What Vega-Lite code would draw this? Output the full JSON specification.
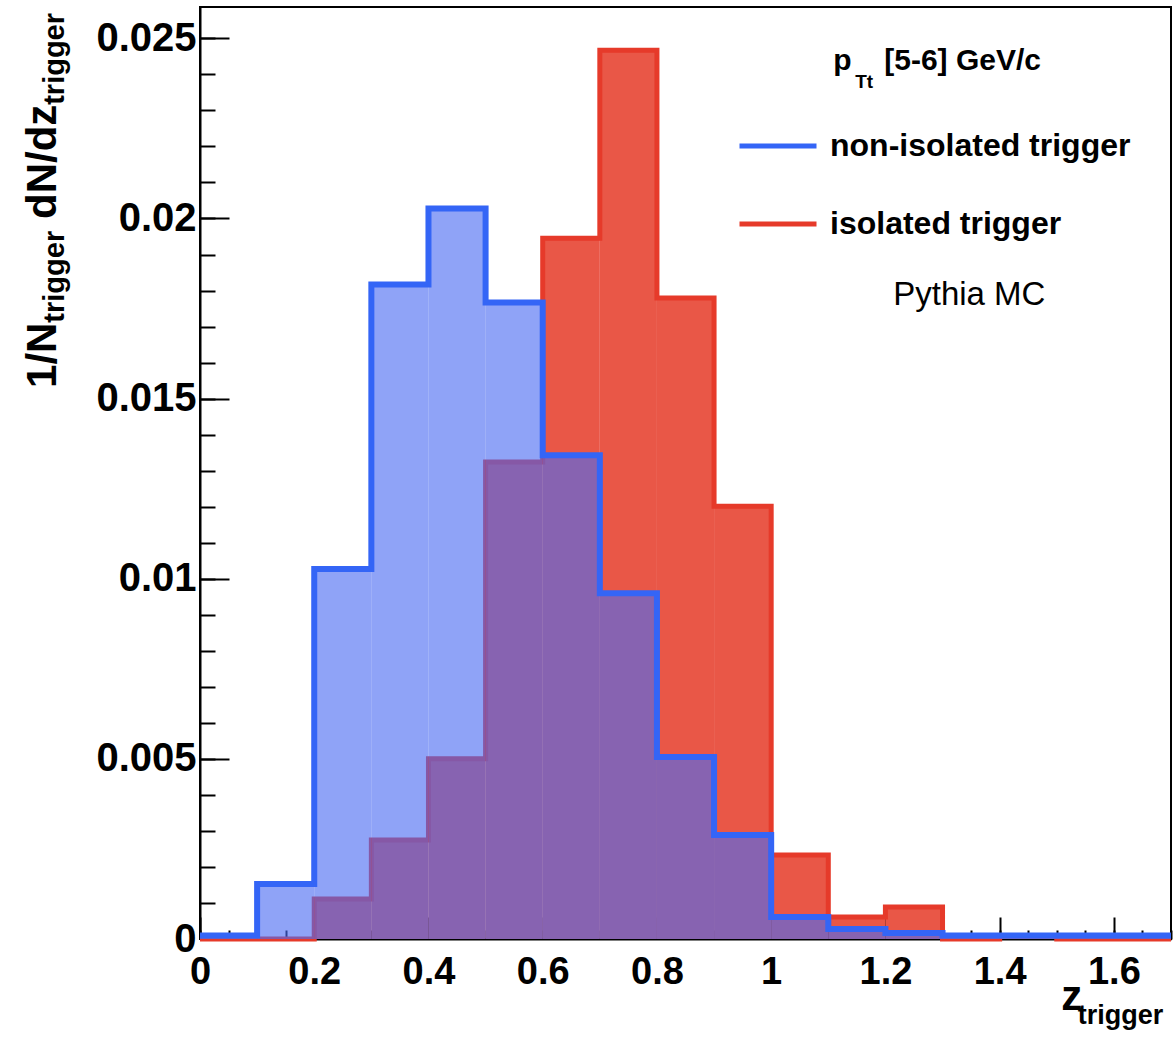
{
  "$schema": "https://vega.github.io/schema/vega-lite/v6.json",
  "width": 971,
  "height": 932,
  "autosize": "none",
  "padding": {"left": 200, "top": 7, "right": 4, "bottom": 98},
  "background": "white",
  "config": {
    "view": {"stroke": "black", "strokeWidth": 2},
    "axis": {"grid": false},
    "text": {"font": "Liberation Sans", "color": "black"}
  },
  "datasets": {
    "hist": [
      {"z0": 0.0, "z1": 0.1, "series": "non-isolated trigger", "density": 0.0001},
      {"z0": 0.1, "z1": 0.2, "series": "non-isolated trigger", "density": 0.00153},
      {"z0": 0.2, "z1": 0.3, "series": "non-isolated trigger", "density": 0.01027},
      {"z0": 0.3, "z1": 0.4, "series": "non-isolated trigger", "density": 0.01817},
      {"z0": 0.4, "z1": 0.5, "series": "non-isolated trigger", "density": 0.02028},
      {"z0": 0.5, "z1": 0.6, "series": "non-isolated trigger", "density": 0.01767},
      {"z0": 0.6, "z1": 0.7, "series": "non-isolated trigger", "density": 0.01343},
      {"z0": 0.7, "z1": 0.8, "series": "non-isolated trigger", "density": 0.0096},
      {"z0": 0.8, "z1": 0.9, "series": "non-isolated trigger", "density": 0.00505},
      {"z0": 0.9, "z1": 1.0, "series": "non-isolated trigger", "density": 0.00289},
      {"z0": 1.0, "z1": 1.1, "series": "non-isolated trigger", "density": 0.00061},
      {"z0": 1.1, "z1": 1.2, "series": "non-isolated trigger", "density": 0.00028},
      {"z0": 1.2, "z1": 1.3, "series": "non-isolated trigger", "density": 0.00017},
      {"z0": 1.3, "z1": 1.4, "series": "non-isolated trigger", "density": 0.0001},
      {"z0": 1.4, "z1": 1.5, "series": "non-isolated trigger", "density": 0.0001},
      {"z0": 1.5, "z1": 1.6, "series": "non-isolated trigger", "density": 0.0001},
      {"z0": 1.6, "z1": 1.7, "series": "non-isolated trigger", "density": 0.0001},
      {"z0": 0.0, "z1": 0.1, "series": "isolated trigger", "density": 0},
      {"z0": 0.1, "z1": 0.2, "series": "isolated trigger", "density": 0},
      {"z0": 0.2, "z1": 0.3, "series": "isolated trigger", "density": 0.00111},
      {"z0": 0.3, "z1": 0.4, "series": "isolated trigger", "density": 0.00275},
      {"z0": 0.4, "z1": 0.5, "series": "isolated trigger", "density": 0.005},
      {"z0": 0.5, "z1": 0.6, "series": "isolated trigger", "density": 0.01324},
      {"z0": 0.6, "z1": 0.7, "series": "isolated trigger", "density": 0.01945},
      {"z0": 0.7, "z1": 0.8, "series": "isolated trigger", "density": 0.02467},
      {"z0": 0.8, "z1": 0.9, "series": "isolated trigger", "density": 0.01779},
      {"z0": 0.9, "z1": 1.0, "series": "isolated trigger", "density": 0.01201},
      {"z0": 1.0, "z1": 1.1, "series": "isolated trigger", "density": 0.00233},
      {"z0": 1.1, "z1": 1.2, "series": "isolated trigger", "density": 0.00061},
      {"z0": 1.2, "z1": 1.3, "series": "isolated trigger", "density": 0.00089},
      {"z0": 1.3, "z1": 1.4, "series": "isolated trigger", "density": 0},
      {"z0": 1.4, "z1": 1.5, "series": "isolated trigger", "density": 0.0001},
      {"z0": 1.5, "z1": 1.6, "series": "isolated trigger", "density": 0},
      {"z0": 1.6, "z1": 1.7, "series": "isolated trigger", "density": 0}
    ]
  },
  "data": {"name": "hist"},
  "resolve": {"axis": {"x": "independent", "y": "independent"}},
  "layer": [
    {
      "transform": [{"filter": "datum.series == 'isolated trigger'"}],
      "mark": {"type": "rect", "fill": "#e95747"},
      "encoding": {
        "x": {
          "field": "z0", "type": "quantitative",
          "scale": {"domain": [0, 1.7], "nice": false, "zero": false},
          "axis": {
            "orient": "bottom",
            "title": null, "values": [0, 0.2, 0.4, 0.6, 0.8, 1, 1.2, 1.4, 1.6],
            "format": "~f", "tickSize": -22, "tickWidth": 2, "tickColor": "black",
            "domainColor": "black", "domainWidth": 2,
            "labelFont": "Liberation Sans", "labelFontSize": 38, "labelFontWeight": "bold",
            "labelColor": "black", "labelPadding": 36, "labelFlush": false, "labelOverlap": false
          }
        },
        "x2": {"field": "z1"},
        "y": {
          "field": "density", "type": "quantitative",
          "scale": {"domain": [0, 0.02587], "nice": false, "zero": true},
          "axis": {
            "orient": "left",
            "title": null, "values": [0, 0.005, 0.01, 0.015, 0.02, 0.025],
            "format": "~f", "tickSize": -29, "tickWidth": 2, "tickColor": "black",
            "domainColor": "black", "domainWidth": 2,
            "labelFont": "Liberation Sans", "labelFontSize": 40, "labelFontWeight": "bold",
            "labelColor": "black", "labelPadding": 33, "labelFlush": false, "labelOverlap": false
          }
        },
        "y2": {"datum": 0}
      }
    },
    {
      "transform": [
        {"filter": "datum.series == 'isolated trigger'"},
        {"fold": ["z0", "z1"], "as": ["edge", "z"]}
      ],
      "mark": {"type": "line", "strokeWidth": 5, "clip": false, "strokeJoin": "miter", "strokeCap": "butt"},
      "encoding": {
        "x": {
          "field": "z", "type": "quantitative",
          "axis": {
            "orient": "bottom",
            "title": null,
            "values": [0, 0.05, 0.1, 0.15, 0.2, 0.25, 0.3, 0.35, 0.4, 0.45, 0.5, 0.55, 0.6, 0.65, 0.7, 0.75, 0.8, 0.85, 0.9, 0.95, 1, 1.05, 1.1, 1.15, 1.2, 1.25, 1.3, 1.35, 1.4, 1.45, 1.5, 1.55, 1.6, 1.65, 1.7],
            "labels": false, "domain": false, "tickSize": -9, "tickWidth": 2, "tickColor": "black"
          }
        },
        "y": {
          "field": "density", "type": "quantitative",
          "axis": {
            "orient": "left",
            "title": null,
            "values": [0, 0.001, 0.002, 0.003, 0.004, 0.005, 0.006, 0.007, 0.008, 0.009, 0.01, 0.011, 0.012, 0.013, 0.014, 0.015, 0.016, 0.017, 0.018, 0.019, 0.02, 0.021, 0.022, 0.023, 0.024, 0.025],
            "labels": false, "domain": false, "tickSize": -15, "tickWidth": 2, "tickColor": "black"
          }
        },
        "order": [
          {"field": "z", "type": "quantitative"},
          {"field": "edge", "type": "nominal", "sort": "descending"}
        ],
        "color": {
          "field": "series", "type": "nominal",
          "scale": {"domain": ["non-isolated trigger", "isolated trigger"], "range": ["#3465f6", "#e63a2a"]},
          "legend": {
            "title": null, "orient": "none", "legendX": 537, "legendY": 98,
            "symbolType": "stroke", "symbolSize": 5929, "symbolStrokeWidth": 5,
            "labelFont": "Liberation Sans", "labelFontSize": 32, "labelFontWeight": "bold",
            "labelColor": "black", "labelOffset": 11, "labelLimit": 0, "rowPadding": 21, "padding": 0
          }
        }
      }
    },
    {
      "transform": [{"filter": "datum.series == 'non-isolated trigger'"}],
      "mark": {"type": "rect", "fill": "#4a6af2", "fillOpacity": 0.62},
      "encoding": {
        "x": {"field": "z0", "type": "quantitative", "axis": null},
        "x2": {"field": "z1"},
        "y": {"field": "density", "type": "quantitative", "axis": null},
        "y2": {"datum": 0}
      }
    },
    {
      "transform": [
        {"filter": "datum.series == 'non-isolated trigger'"},
        {"fold": ["z0", "z1"], "as": ["edge", "z"]}
      ],
      "mark": {"type": "line", "strokeWidth": 6, "clip": false, "strokeJoin": "miter", "strokeCap": "butt"},
      "encoding": {
        "x": {"field": "z", "type": "quantitative", "axis": null},
        "y": {"field": "density", "type": "quantitative", "axis": null},
        "order": [
          {"field": "z", "type": "quantitative"},
          {"field": "edge", "type": "nominal", "sort": "descending"}
        ],
        "color": {"field": "series", "type": "nominal"}
      }
    },
    {
      "data": {"values": [{}]},
      "mark": {"type": "text", "text": "p", "fontSize": 30, "fontWeight": "bold", "align": "left", "baseline": "alphabetic"},
      "encoding": {
        "x": {"datum": 1.1086, "type": "quantitative", "axis": null},
        "y": {"datum": 0.024121, "type": "quantitative", "axis": null}
      }
    },
    {
      "data": {"values": [{}]},
      "mark": {"type": "text", "text": "Tt", "fontSize": 19, "fontWeight": "bold", "align": "left", "baseline": "alphabetic"},
      "encoding": {
        "x": {"datum": 1.1471, "type": "quantitative", "axis": null},
        "y": {"datum": 0.023621, "type": "quantitative", "axis": null}
      }
    },
    {
      "data": {"values": [{}]},
      "mark": {"type": "text", "text": "[5-6] GeV/c", "fontSize": 30, "fontWeight": "bold", "align": "left", "baseline": "alphabetic"},
      "encoding": {
        "x": {"datum": 1.1979, "type": "quantitative", "axis": null},
        "y": {"datum": 0.024121, "type": "quantitative", "axis": null}
      }
    },
    {
      "data": {"values": [{}]},
      "mark": {"type": "text", "text": "Pythia MC", "fontSize": 33, "fontWeight": "normal", "align": "left", "baseline": "alphabetic"},
      "encoding": {
        "x": {"datum": 1.2137, "type": "quantitative", "axis": null},
        "y": {"datum": 0.017598, "type": "quantitative", "axis": null}
      }
    },
    {
      "data": {"values": [{}]},
      "mark": {"type": "text", "text": "z", "fontSize": 42, "fontWeight": "bold", "align": "right", "baseline": "alphabetic"},
      "encoding": {
        "x": {"datum": 1.5447, "type": "quantitative", "axis": null},
        "y": {"datum": -0.001971, "type": "quantitative", "axis": null}
      }
    },
    {
      "data": {"values": [{}]},
      "mark": {"type": "text", "text": "trigger", "fontSize": 27, "fontWeight": "bold", "align": "right", "baseline": "alphabetic"},
      "encoding": {
        "x": {"datum": 1.6865, "type": "quantitative", "axis": null},
        "y": {"datum": -0.002359, "type": "quantitative", "axis": null}
      }
    },
    {
      "data": {"values": [{}]},
      "mark": {"type": "text", "text": "1/N", "fontSize": 42, "fontWeight": "bold", "align": "left", "baseline": "alphabetic", "angle": 270},
      "encoding": {
        "x": {"datum": -0.2522, "type": "quantitative", "axis": null},
        "y": {"datum": 0.015295, "type": "quantitative", "axis": null}
      }
    },
    {
      "data": {"values": [{}]},
      "mark": {"type": "text", "text": "trigger", "fontSize": 29, "fontWeight": "bold", "align": "left", "baseline": "alphabetic", "angle": 270},
      "encoding": {
        "x": {"datum": -0.2382, "type": "quantitative", "axis": null},
        "y": {"datum": 0.017109, "type": "quantitative", "axis": null}
      }
    },
    {
      "data": {"values": [{}]},
      "mark": {"type": "text", "text": "dN/dz", "fontSize": 42, "fontWeight": "bold", "align": "left", "baseline": "alphabetic", "angle": 270},
      "encoding": {
        "x": {"datum": -0.2522, "type": "quantitative", "axis": null},
        "y": {"datum": 0.019986, "type": "quantitative", "axis": null}
      }
    },
    {
      "data": {"values": [{}]},
      "mark": {"type": "text", "text": "trigger", "fontSize": 29, "fontWeight": "bold", "align": "left", "baseline": "alphabetic", "angle": 270},
      "encoding": {
        "x": {"datum": -0.2382, "type": "quantitative", "axis": null},
        "y": {"datum": 0.023155, "type": "quantitative", "axis": null}
      }
    }
  ]
}
